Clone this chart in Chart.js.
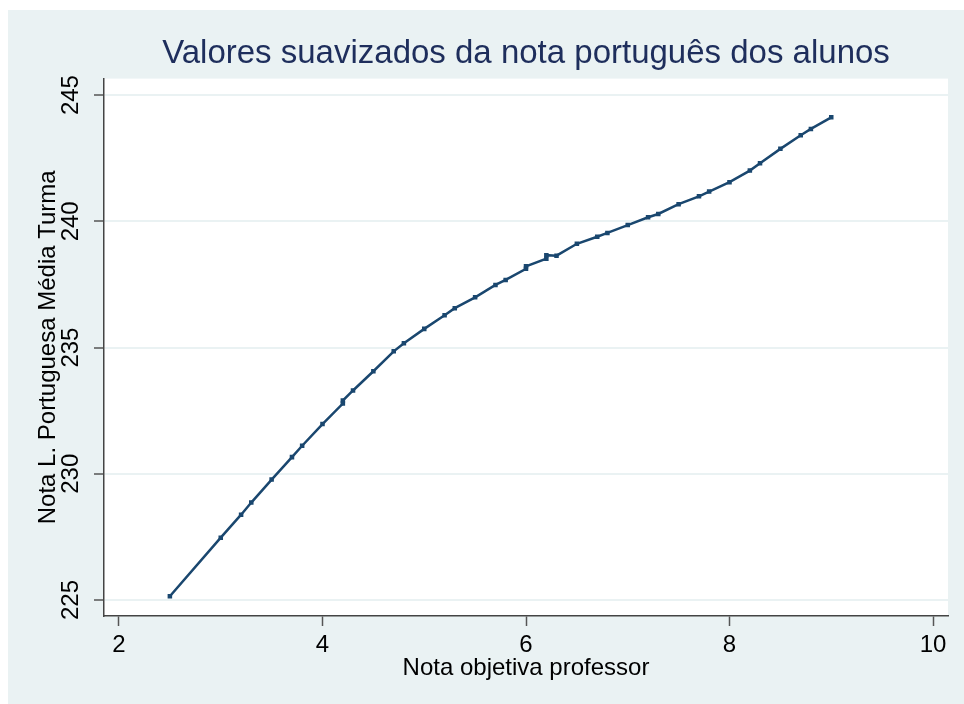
<!DOCTYPE html>
<html>
<head>
<meta charset="utf-8">
<script src="https://cdn.jsdelivr.net/npm/chart.js@4/dist/chart.umd.min.js"></script>
<style>
  body { margin: 0; background: #fff; }
  #myChart { position: absolute; left: 8px; top: 10px; background: #eaf2f3; }
</style>
</head>
<body>
<canvas id="myChart" width="956" height="694"></canvas>
<script>
// x: nota objetiva do professor, y: valor suavizado (lowess) da nota de português
var notaProfessor = [2.5, 3.0, 3.2, 3.3, 3.5, 3.7, 3.8, 4.0, 4.2, 4.2, 4.3, 4.5, 4.7, 4.8, 5.0, 5.2, 5.3, 5.5, 5.7, 5.8,
                     6.0, 6.0, 6.2, 6.2, 6.3, 6.5, 6.7, 6.8, 7.0, 7.2, 7.3, 7.5, 7.7, 7.8, 8.0, 8.2, 8.3, 8.5, 8.7, 8.8, 9.0];
var notaPortugues = [225.15, 227.47, 228.38, 228.86, 229.77, 230.66, 231.11, 231.97, 232.78, 232.90, 233.30, 234.06, 234.85, 235.17, 235.74, 236.28, 236.56, 236.99, 237.48, 237.68,
                     238.12, 238.22, 238.52, 238.66, 238.64, 239.11, 239.39, 239.54, 239.85, 240.16, 240.29, 240.68, 240.99, 241.18, 241.55, 242.01, 242.30, 242.87, 243.41, 243.66, 244.12];
var xTicks = [2, 4, 6, 8, 10];
var yTicks = [225, 230, 235, 240, 245];

var titulo = "Valores suavizados da nota português dos alunos";
var tituloX = "Nota objetiva professor";
var tituloY = "Nota L. Portuguesa Média Turma";

var fonte = "'Liberation Sans', Arial, sans-serif";

// white plot region on the light blue-gray graph region
var plotBg = {
  id: 'plotBg',
  beforeDraw: function(chart) {
    var a = chart.chartArea, ctx = chart.ctx;
    ctx.save();
    ctx.fillStyle = '#ffffff';
    ctx.fillRect(a.left, a.top, a.right - a.left, a.bottom - a.top);
    ctx.restore();
  }
};

var ctx = document.getElementById('myChart').getContext('2d');
var chart = new Chart(ctx, {
  type: 'scatter',
  data: {
    datasets: [{
      data: notaProfessor.map(function(x, i) { return {x: x, y: notaPortugues[i]}; }),
      showLine: true,
      borderColor: '#1a476f',
      backgroundColor: '#1a476f',
      borderWidth: 2.5,
      pointStyle: 'rect',
      pointRadius: 3.2,
      pointBorderWidth: 0,
      tension: 0
    }]
  },
  plugins: [plotBg],
  options: {
    responsive: false,
    animation: false,
    devicePixelRatio: 1,
    layout: { padding: { left: 0, right: 16, top: 10, bottom: 21.6 } },
    plugins: {
      legend: { display: false },
      tooltip: { enabled: false },
      title: {
        display: true,
        text: titulo,
        fullSize: false,
        color: '#1e2e5c',
        font: { family: fonte, size: 33, weight: 'normal' },
        padding: { top: 14, bottom: 5 }
      }
    },
    scales: {
      x: {
        type: 'linear',
        min: 1.8526,
        max: 10.1474,
        afterBuildTicks: function(s) { s.ticks = xTicks.map(function(v) { return {value: v}; }); },
        afterFit: function(s) { s.height = 66.4; s.paddingLeft = 0; s.paddingRight = 0; },
        grid: { drawOnChartArea: false, drawTicks: true, tickLength: 10, tickColor: '#555', tickWidth: 1.5 },
        border: { display: true, color: '#444', width: 1.5 },
        ticks: { color: '#000', padding: 5, maxRotation: 0, font: { family: fonte, size: 24 } },
        title: { display: true, text: tituloX, color: '#000', padding: { top: 0, bottom: 0 }, font: { family: fonte, size: 24 } }
      },
      y: {
        type: 'linear',
        min: 224.367,
        max: 245.653,
        afterBuildTicks: function(s) { s.ticks = yTicks.map(function(v) { return {value: v}; }); },
        afterFit: function(s) { s.width = 96; s.paddingTop = 0; s.paddingBottom = 0; },
        grid: { color: '#eaf2f3', lineWidth: 2, drawTicks: true, tickLength: 10, tickColor: '#555', tickWidth: 1.5 },
        border: { display: true, color: '#444', width: 1.5 },
        ticks: { color: '#000', padding: 3, minRotation: 90, maxRotation: 90, crossAlign: 'center', font: { family: fonte, size: 24 } },
        title: { display: true, text: tituloY, color: '#000', padding: { top: 26, bottom: 0 }, font: { family: fonte, size: 24 } }
      }
    }
  }
});
</script>
</body>
</html>
